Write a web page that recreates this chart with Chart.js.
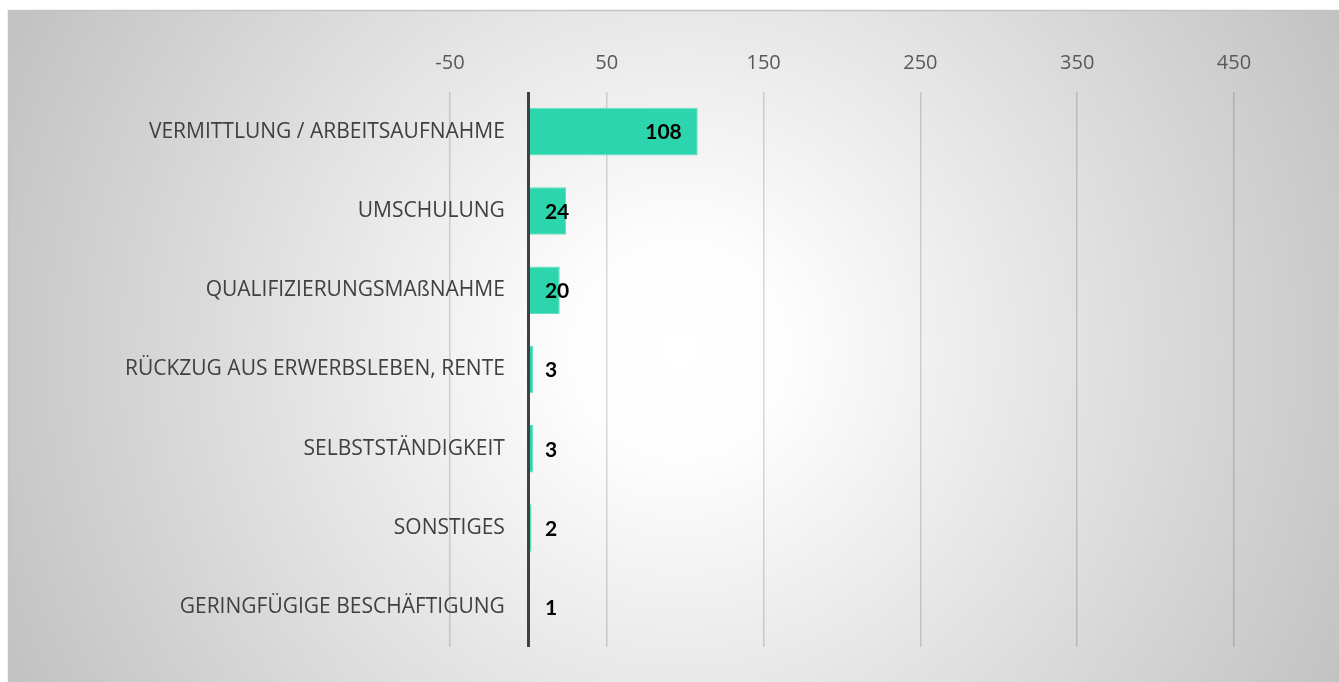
<!DOCTYPE html>
<html>
<head>
<meta charset="utf-8">
<script src="https://cdn.jsdelivr.net/npm/chart.js@4.4.1/dist/chart.umd.min.js"></script>
<style>
  html, body { margin: 0; padding: 0; background: #fff; }
  canvas { display: block; }
</style>
</head>
<body>
<canvas id="canvasMassnahmen" width="1339" height="682"></canvas>
<script>
var kategorien = [
  'VERMITTLUNG / ARBEITSAUFNAHME',
  'UMSCHULUNG',
  'QUALIFIZIERUNGSMAßNAHME',
  'RÜCKZUG AUS ERWERBSLEBEN, RENTE',
  'SELBSTSTÄNDIGKEIT',
  'SONSTIGES',
  'GERINGFÜGIGE BESCHÄFTIGUNG'
];
var anzahl = [108, 24, 20, 3, 3, 2, 1];
var xTicks = [-50, 50, 150, 250, 350, 450];

// grey radial background with a thin frame
var hintergrund = {
  id: 'hintergrund',
  beforeDraw: function(chart) {
    var ctx = chart.ctx;
    ctx.save();
    ctx.fillStyle = '#ffffff';
    ctx.fillRect(0, 0, chart.width, chart.height);
    var g = ctx.createRadialGradient(680, 350, 0, 680, 350, 740);
    g.addColorStop(0, '#ffffff');
    g.addColorStop(0.15, '#fdfdfd');
    g.addColorStop(1, '#c2c2c2');
    ctx.fillStyle = g;
    ctx.fillRect(8, 10, chart.width - 8, chart.height - 10);
    ctx.strokeStyle = '#c4c4c4';
    ctx.lineWidth = 1.5;
    ctx.beginPath();
    ctx.moveTo(8.5, chart.height);
    ctx.lineTo(8.5, 10.5);
    ctx.lineTo(chart.width, 10.5);
    ctx.stroke();
    ctx.restore();
  }
};

// value labels like excel "inside end"
var werte = {
  id: 'werte',
  afterDatasetsDraw: function(chart) {
    var ctx = chart.ctx;
    var meta = chart.getDatasetMeta(0);
    ctx.save();
    ctx.font = 'bold 21px Lato';
    ctx.fillStyle = '#000000';
    ctx.textBaseline = 'middle';
    ctx.textAlign = 'left';
    meta.data.forEach(function(bar, i) {
      var txt = String(anzahl[i]);
      var w = ctx.measureText(txt).width;
      var left = Math.max(bar.base + 15, bar.x - 16 - w);
      ctx.fillText(txt, left, bar.y + 1);
    });
    ctx.restore();
  }
};

var ctx = document.getElementById('canvasMassnahmen');

var barGraph = new Chart(ctx, {
  type: 'bar',
  data: {
    labels: kategorien,
    datasets: [
      {
        label: 'Anzahl',
        backgroundColor: '#2cd5ac',
        borderColor: '#62e0c2',
        borderWidth: 1,
        borderSkipped: 'start',
        barPercentage: 0.6,
        categoryPercentage: 1,
        data: anzahl
      }
    ]
  },
  options: {
    indexAxis: 'y',
    responsive: false,
    animation: false,
    layout: {
      padding: { left: 450, right: 105, top: 34, bottom: 35 }
    },
    plugins: {
      legend: { display: false },
      tooltip: { enabled: false }
    },
    scales: {
      x: {
        position: 'top',
        min: -50,
        max: 450,
        z: 1,
        afterBuildTicks: function(scale) {
          var t = xTicks.map(function(v) { return { value: v }; });
          t.splice(1, 0, { value: 0 }); // zero line, no label
          scale.ticks = t;
        },
        grid: {
          color: function(c) { return c.tick && c.tick.value === 0 ? '#404040' : 'rgba(0,0,0,0.15)'; },
          lineWidth: function(c) { return c.tick && c.tick.value === 0 ? 3 : 1.5; },
          drawTicks: false
        },
        border: { display: false },
        ticks: {
          padding: 17,
          color: '#595959',
          font: { family: 'Open Sans', size: 20 },
          callback: function(v) { return v === 0 ? '' : v; }
        }
      },
      y: {
        // labels end a bit left of the zero line
        position: { x: -15 },
        grid: { display: false, drawTicks: false },
        border: { display: false },
        ticks: {
          color: '#404040',
          font: { family: 'Open Sans', size: 21 }
        }
      }
    }
  },
  plugins: [hintergrund, werte]
});
</script>
</body>
</html>
